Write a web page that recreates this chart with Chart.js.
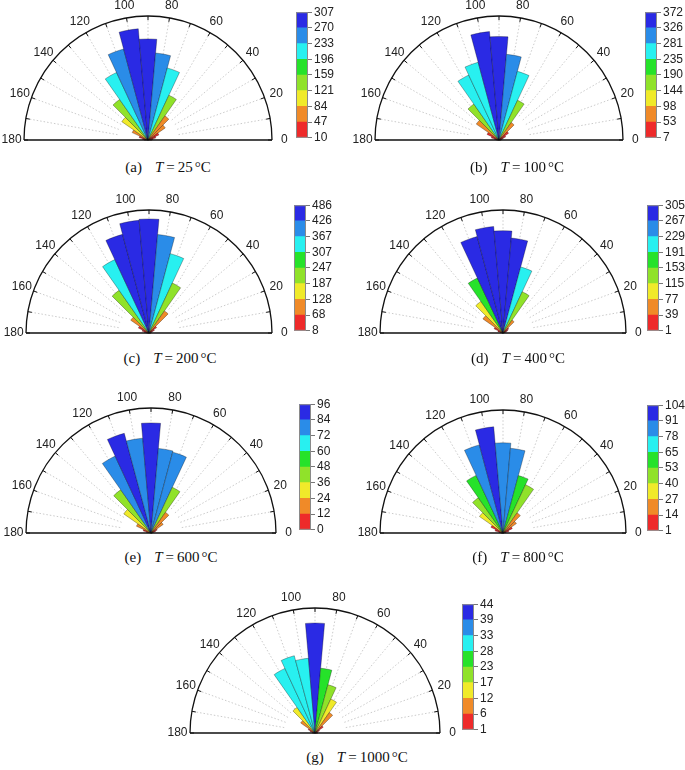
<!DOCTYPE html>
<html>
<head>
<meta charset="utf-8">
<script src="https://cdn.jsdelivr.net/npm/chart.js@4.4.1/dist/chart.umd.min.js"></script>
<style>
    html, body { margin: 0; padding: 0; background: #fff; overflow: hidden; }
    body { width: 685px; height: 770px; position: relative; }
    .clip { position: absolute; overflow: hidden; }
    .clip canvas { position: absolute; left: 0; top: 0; }
    .cb { position: absolute; }
    .cap {
        position: absolute; transform: translate(-50%, -50%); white-space: nowrap;
        font-family: "Liberation Serif", "DejaVu Serif", serif; font-size: 15px; color: #111;
    }
    .cap .gap { display: inline-block; width: 13px; }
    .cap .eq { margin: 0 3px; }
    .cap .deg { margin-left: 2px; }
</style>
</head>
<body>
<script>
// bin centres (deg) and angle labels
var binAngles = [0, 10, 20, 30, 40, 50, 60, 70, 80, 90, 100, 110, 120, 130, 140, 150, 160, 170, 180];
var angleLabels = [0, 20, 40, 60, 80, 100, 120, 140, 160, 180];

// counts per bin, 0 -> 180 deg
var counts25 = [10, 14, 22, 33, 58, 81, 136, 205, 240, 278, 307, 259, 205, 136, 88, 48, 25, 15, 10];
var counts100 = [7, 10, 15, 25, 40, 73, 150, 243, 294, 354, 372, 275, 245, 150, 95, 45, 27, 15, 8];
var counts200 = [8, 10, 15, 25, 40, 115, 235, 350, 421, 486, 482, 435, 345, 222, 95, 50, 30, 20, 10];
var counts400 = [1, 5, 10, 15, 20, 45, 130, 195, 272, 292, 305, 285, 173, 110, 70, 28, 15, 8, 3];
var counts600 = [1, 2, 4, 6, 13, 22, 44, 73, 74, 96, 83, 90, 74, 46, 29, 14, 7, 4, 0];
var counts800 = [1, 3, 6, 10, 16, 24, 52, 58, 83, 88, 104, 89, 62, 42, 28, 13, 8, 4, 2];
var counts1000 = [1, 1, 1, 2, 4, 10, 15, 20, 26, 44, 30, 32, 28.5, 12.5, 7, 3, 2, 1, 1];

// colorbar tick labels
var cb25 = [10, 47, 84, 121, 159, 196, 233, 270, 307];
var cb100 = [7, 53, 98, 144, 190, 235, 281, 326, 372];
var cb200 = [8, 68, 128, 187, 247, 307, 367, 426, 486];
var cb400 = [1, 39, 77, 115, 153, 191, 229, 267, 305];
var cb600 = [0, 12, 24, 36, 48, 60, 72, 84, 96];
var cb800 = [1, 14, 27, 40, 53, 65, 78, 91, 104];
var cb1000 = [1, 6, 12, 17, 23, 28, 33, 39, 44];

// radial axis limits
var rMax = [341, 424, 524, 351, 109, 120, 50];

var letters = ['a', 'b', 'c', 'd', 'e', 'f', 'g'];
var temps = [25, 100, 200, 400, 600, 800, 1000];

var levelColors = ['#ee2a2a', '#f08a28', '#f0ea2a', '#90e22a', '#26e22a', '#28f0f0', '#2a8ce8', '#2a2ae4'];

// placement of each panel
var panels = [
    { cx: 148, cy: 140, r: 124, bx: 296, by: 11, tx: 168, ty: 167 },
    { cx: 499, cy: 140, r: 124, bx: 645, by: 11, tx: 517, ty: 167 },
    { cx: 149, cy: 333, r: 123, bx: 294, by: 204, tx: 170, ty: 358 },
    { cx: 503, cy: 333, r: 123, bx: 647, by: 204, tx: 518, ty: 358 },
    { cx: 151, cy: 533, r: 125, bx: 299, by: 403, tx: 171, ty: 557 },
    { cx: 503, cy: 533, r: 123, bx: 647, by: 404, tx: 518, ty: 557 },
    { cx: 315, cy: 733, r: 125, bx: 462, by: 603, tx: 357, ty: 757 }
];

Chart.defaults.font.family = '"Liberation Sans", Arial, sans-serif';

function levelColor(v, lo, hi) {
    var i = Math.floor((v - lo) / (hi - lo) * 8);
    if (i < 0) i = 0;
    if (i > 7) i = 7;
    return levelColors[i];
}

var roseFrame = {
    id: 'roseFrame',
    beforeDatasetsDraw(chart) {
        var s = chart.scales.r, ctx = chart.ctx
        var x0 = s.xCenter, y0 = s.yCenter, R = s.drawingArea
        ctx.save()
        ctx.strokeStyle = '#b4b4b4'
        ctx.lineWidth = 0.7
        ctx.setLineDash([1.5, 2])
        for (var a = 10; a < 180; a += 10) {
            var t = a * Math.PI / 180
            ctx.beginPath()
            ctx.moveTo(x0 + 0.25 * R * Math.cos(t), y0 - 0.25 * R * Math.sin(t))
            ctx.lineTo(x0 + R * Math.cos(t), y0 - R * Math.sin(t))
            ctx.stroke()
        }
        ctx.restore()
    },
    afterDatasetsDraw(chart) {
        var s = chart.scales.r, ctx = chart.ctx
        var x0 = s.xCenter, y0 = s.yCenter, R = s.drawingArea
        ctx.save()
        ctx.strokeStyle = '#111'
        ctx.lineWidth = 1.3
        ctx.beginPath()
        ctx.arc(x0, y0, R, Math.PI, 2 * Math.PI)
        ctx.moveTo(x0 - R, y0)
        ctx.lineTo(x0 + R, y0)
        ctx.stroke()

        ctx.lineWidth = 1
        binAngles.forEach(a => {
            var t = a * Math.PI / 180
            ctx.beginPath()
            ctx.moveTo(x0 + R * Math.cos(t), y0 - R * Math.sin(t))
            ctx.lineTo(x0 + (R - 4) * Math.cos(t), y0 - (R - 4) * Math.sin(t))
            ctx.stroke()
        });

        ctx.fillStyle = '#222'
        ctx.font = '12px "Liberation Sans", Arial, sans-serif'
        ctx.textAlign = 'center'
        ctx.textBaseline = 'middle'
        angleLabels.forEach(a => {
            var t = a * Math.PI / 180
            ctx.fillText(String(a), x0 + 1.1 * R * Math.cos(t), y0 - 1.1 * R * Math.sin(t))
        });
        ctx.restore()
    }
};

var cbFrame = {
    id: 'cbFrame',
    afterDatasetsDraw(chart) {
        var a = chart.chartArea, ctx = chart.ctx
        ctx.save()
        ctx.strokeStyle = '#8a8a8a'
        ctx.lineWidth = 1
        ctx.strokeRect(a.left + 0.5, a.top + 0.5, a.right - a.left - 1, a.bottom - a.top - 1)
        ctx.restore()
    }
};

function rose(counts, cbTicks, max, box) {
    var S = 300
    var clip = document.createElement('div')
    clip.className = 'clip'
    clip.style.left = (box.cx - S / 2) + 'px'
    clip.style.top = (box.cy - S / 2) + 'px'
    clip.style.width = S + 'px'
    clip.style.height = (S / 2 + 10) + 'px'
    var canvas = document.createElement('canvas')
    canvas.width = S
    canvas.height = S
    clip.appendChild(canvas)
    document.body.appendChild(clip)

    var lo = cbTicks[0], hi = cbTicks[cbTicks.length - 1]
    new Chart(canvas, {
        type: 'polarArea',
        data: {
            labels: binAngles.slice().reverse(),
            datasets: [{
                data: counts.slice().reverse(),
                angle: 10,
                backgroundColor: ctx => levelColor(ctx.raw, lo, hi),
                borderColor: 'rgba(0,0,0,0.5)',
                borderWidth: 0.6
            }]
        },
        options: {
            responsive: false,
            animation: false,
            layout: { padding: S / 2 - box.r },
            plugins: { legend: { display: false }, tooltip: { enabled: false } },
            scales: {
                r: {
                    min: 0,
                    max: max,
                    startAngle: 265,
                    ticks: { display: false },
                    grid: { display: false },
                    angleLines: { display: false },
                    pointLabels: { display: false }
                }
            }
        },
        plugins: [roseFrame]
    });
}

function colorbar(cbTicks, box) {
    var W = 48, H = 144
    var canvas = document.createElement('canvas')
    canvas.className = 'cb'
    canvas.width = W
    canvas.height = H
    canvas.style.left = (box.bx - 1) + 'px'
    canvas.style.top = (box.by - 8) + 'px'
    document.body.appendChild(canvas)

    new Chart(canvas, {
        type: 'bar',
        data: {
            labels: [''],
            datasets: levelColors.map(c => ({
                data: [1], backgroundColor: c, borderWidth: 0,
                barPercentage: 1, categoryPercentage: 1
            }))
        },
        options: {
            responsive: false,
            animation: false,
            layout: { padding: { left: 1, top: 8, bottom: 8, right: 0 } },
            plugins: { legend: { display: false }, tooltip: { enabled: false } },
            scales: {
                x: { display: false, stacked: true },
                y: {
                    stacked: true,
                    position: 'right',
                    min: 0,
                    max: 8,
                    afterFit: s => { s.width = W - 1 - 12 },
                    border: { display: false },
                    grid: { drawOnChartArea: false, tickLength: 4, color: '#777' },
                    ticks: {
                        stepSize: 1, autoSkip: false, padding: 2, color: '#222',
                        font: { size: 12 },
                        callback: v => cbTicks[v]
                    }
                }
            }
        },
        plugins: [cbFrame]
    });
}

function caption(i, box) {
    var d = document.createElement('div')
    d.className = 'cap'
    d.style.left = box.tx + 'px'
    d.style.top = box.ty + 'px'
    d.innerHTML = '(' + letters[i] + ')<span class="gap"></span><i>T</i><span class="eq">=</span>' + temps[i] + '<span class="deg">°</span>C'
    document.body.appendChild(d)
}

var allCounts = [counts25, counts100, counts200, counts400, counts600, counts800, counts1000];
var allTicks = [cb25, cb100, cb200, cb400, cb600, cb800, cb1000];

panels.forEach((box, i) => {
    rose(allCounts[i], allTicks[i], rMax[i], box)
    colorbar(allTicks[i], box)
    caption(i, box)
});
</script>
</body>
</html>
